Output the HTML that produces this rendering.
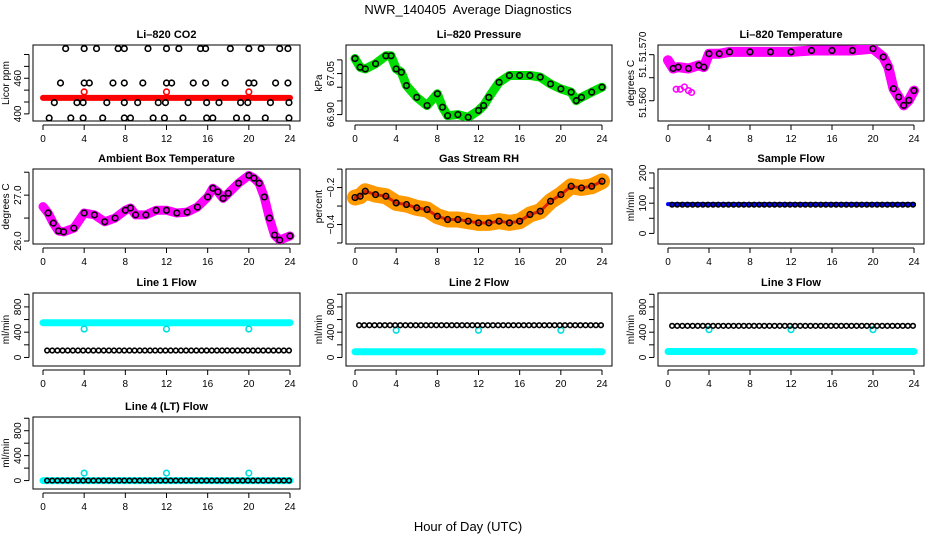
<!DOCTYPE html>
<html><head><meta charset="utf-8"><style>
body{margin:0;background:#fff}
svg{display:block;font-family:"Liberation Sans",Arial,sans-serif}
</style></head><body>
<svg id="c" width="936" height="540" xmlns="http://www.w3.org/2000/svg">
<rect width="936" height="540" fill="#fff"/>
<text x="468" y="14" text-anchor="middle" font-size="13" xml:space="preserve">NWR_140405  Average Diagnostics</text>
<text x="468" y="531" text-anchor="middle" font-size="13">Hour of Day (UTC)</text>
</svg>
<script>
// ---- data ----
const presT=[0,0.5,1,2,3,3.5,4,4.5,5,6,7,8,8.5,9,10,11,12,12.5,13,14,15,16,17,18,19,20,21,21.5,22,23,24];
const presV=[67.105,67.073,67.067,67.086,67.115,67.115,67.067,67.055,67.006,66.963,66.933,66.976,66.927,66.896,66.90,66.89,66.915,66.933,66.963,67.018,67.043,67.043,67.043,67.037,67.012,66.994,66.982,66.951,66.963,66.982,67.0];
const ambT=[0,0.5,1,1.5,2,3,4,5,6,7,8,8.5,9,10,11,12,13,14,15,16,16.5,17,17.5,18,19,20,20.5,21,21.5,22,22.5,23,24];
const ambV=[26.75,26.61,26.39,26.22,26.20,26.28,26.61,26.57,26.42,26.50,26.67,26.72,26.57,26.57,26.67,26.67,26.61,26.63,26.74,26.96,27.15,27.07,26.93,27.04,27.26,27.43,27.37,27.26,26.96,26.50,26.13,26.02,26.11];
const rhT=[0,0.5,1,2,3,4,5,6,7,8,9,10,11,12,13,14,15,16,17,18,19,20,21,22,23,24];
const rhV=[-0.254,-0.247,-0.22,-0.238,-0.247,-0.283,-0.292,-0.31,-0.319,-0.355,-0.373,-0.373,-0.382,-0.391,-0.391,-0.382,-0.391,-0.382,-0.346,-0.328,-0.274,-0.238,-0.193,-0.202,-0.193,-0.166];
const ltT=[0,0.5,1,2,3,3.5,4,5,6,8,10,12,14,16,18,20,21,21.5,22,22.5,23,23.5,24];
const ltV=[51.5688,51.5670,51.5673,51.5670,51.5677,51.5673,51.5702,51.5702,51.5706,51.5706,51.5706,51.5706,51.5709,51.5709,51.5709,51.5713,51.5695,51.5673,51.5626,51.5608,51.5590,51.5601,51.5622];
const ltLowT=[0.8,1.2,1.6,2.0,2.3];
const ltLowV=[51.5625,51.5625,51.5630,51.5622,51.5618];
const co2T=[0,24];
const co2V=[427,427];
const co2SpikeT=[4,12,20];
const co2SpikeV=[437,437,437];
const co2HiT=[2.2,4,5.2,7.3,7.9,10.2,12,13.2,15.3,15.8,18.2,20,21.2,23,23.8];
const co2MidT=[1.7,4,4.5,6.8,7.9,9.7,12,12.5,14.6,15.8,17.7,20,20.5,22.6,23.8];
const co2LoT=[1.1,3.3,3.9,6.2,7.9,9.2,11.2,11.9,14.1,15.9,17.1,19.2,19.9,22.1,23.9];
const co2BotT=[0.6,2.7,3.9,5.8,7.9,8.5,10.7,11.8,13.6,15.9,16.5,18.8,19.8,21.6,23.9];
const co2Levels=[510,452,419,393];
const sampleT=[0,24];
const sampleV=[97,97];
const sampleBlack=95;
const l1Cyan=550, l1Black=110, l1Dip=450;
const l2Cyan=90, l2Black=510, l2Dip=430;
const l3Cyan=95, l3Black=500, l3Dip=440;
const l4Cyan=0, l4Black=0, l4Dip=120;
const dipT=[4,12,20];
const xTicks=[0,4,8,12,16,20,24];

// ---- layout ----
const NS="http://www.w3.org/2000/svg";
const svg=document.getElementById('c');
const colL=[33,346,658],colR=[300,612,924],colX0=[43,355,668],colX24=[290,602,914];
const rowT=[45,169,293,417],rowB=[121,244,366,489];
function el(tag,attrs,parent){const e=document.createElementNS(NS,tag);for(const k in attrs)e.setAttribute(k,attrs[k]);(parent||svg).appendChild(e);return e;}

function panel(name,title,col,row,yLabel,ymin,ymax,yTicks,yLabels){
  const g=el('g',{});
  
  
  const L=colL[col],R=colR[col],T=rowT[row],B=rowB[row];
  const x=t=>colX0[col]+(colX24[col]-colX0[col])*t/24;
  const y=v=>B-(B-T)*(v-ymin)/(ymax-ymin);
  const tt=el('text',{x:(L+R)/2,y:T-7,'text-anchor':'middle','font-size':11,'font-weight':'bold'},g);
  tt.textContent=title;
  
  
  const box=el('rect',{x:L,y:T,width:R-L,height:B-T,fill:'none',stroke:'#000','stroke-width':1},g);
  
  
  const xa=el('g',{},g);
  
  
  el('line',{x1:x(0),x2:x(24),y1:B+4,y2:B+4,stroke:'#000'},xa);
  xTicks.forEach(t=>{el('line',{x1:x(t),x2:x(t),y1:B+4,y2:B+9,stroke:'#000'},xa);
    const tx=el('text',{x:x(t),y:B+21,'text-anchor':'middle','font-size':10},xa);tx.textContent=t;});
  const ya=el('g',{},g);
  
  
  el('line',{x1:L-4,x2:L-4,y1:y(yTicks[0]),y2:y(yTicks[yTicks.length-1]),stroke:'#000'},ya);
  yTicks.forEach(v=>el('line',{x1:L-4,x2:L-9,y1:y(v),y2:y(v),stroke:'#000'},ya));
  yLabels.forEach(([v,s])=>{const tx=el('text',{x:L-12,y:y(v),'text-anchor':'middle','font-size':10,transform:`rotate(-90 ${L-12} ${y(v)})`},ya);tx.textContent=s;});
  const yl=el('text',{x:L-24,y:(T+B)/2,'text-anchor':'middle','font-size':10,transform:`rotate(-90 ${L-24} ${(T+B)/2})`},g);
  yl.textContent=yLabel;
  
  
  const clip='clip'+name;
  const cp=el('clipPath',{id:clip},g);el('rect',{x:L,y:T,width:R-L,height:B-T},cp);
  const d=el('g',{'clip-path':`url(#${clip})`},g);
  return {x,y,d};
}
function band(p,T,V,color,w,nm){
  const pl=el('polyline',{points:T.map((t,i)=>p.x(t)+','+p.y(V[i])).join(' '),fill:'none',stroke:color,'stroke-width':w,'stroke-linejoin':'round','stroke-linecap':'round'},p.d);
  
  
}
function pts(p,T,V,color,nm,r){
  T.forEach((t,i)=>{const c=el('circle',{cx:p.x(t),cy:p.y(V[i]),r:r||2.8,fill:'none',stroke:color,'stroke-width':1.6},p.d);
    
    });
}
const cst=(n,v)=>Array(n).fill(v);
const hours=Array.from({length:48},(_,i)=>0.4+i*0.5);

// CO2
let p=panel('co2','Li\u2013820 CO2',0,0,'Licor ppm',388,516,[400,420,440,460,480,500],[[400,'400'],[460,'460']]);
band(p,co2T,co2V,'#ff0000',6,'co2-red-band');
pts(p,co2SpikeT,co2SpikeV,'#ff0000','co2-red-point');
pts(p,co2HiT,cst(co2HiT.length,co2Levels[0]),'#000','co2-point');
pts(p,co2MidT,cst(co2MidT.length,co2Levels[1]),'#000','co2-point');
pts(p,co2LoT,cst(co2LoT.length,co2Levels[2]),'#000','co2-point');
pts(p,co2BotT,cst(co2BotT.length,co2Levels[3]),'#000','co2-point');

// Pressure
p=panel('pressure','Li\u2013820 Pressure',1,0,'kPa',66.8765,67.1545,[66.90,66.95,67.00,67.05,67.10],[[66.90,'66.90'],[67.05,'67.05']]);
band(p,presT,presV,'#00dd00',9,'pressure-green-band');
pts(p,presT,presV,'#000','pressure-point');

// Li-820 temperature
p=panel('li820-temp','Li\u2013820 Temperature',2,0,'degrees C',51.5556,51.5721,[51.560,51.565,51.570],[[51.5596,'51.560'],[51.5665,'51.'],[51.5717,'51.570']]);
band(p,ltT,ltV,'#ff00ff',10,'li820-temp-magenta-band');
pts(p,ltLowT,ltLowV,'#ff00ff','li820-temp-magenta-point');
pts(p,ltT.slice(1),ltV.slice(1),'#000','li820-temp-point');

// Ambient
p=panel('ambient','Ambient Box Temperature',0,1,'degrees C',25.935,27.57,[26.0,26.5,27.0,27.5],[[26.0,'26.0'],[27.0,'27.0']]);
band(p,ambT,ambV,'#ff00ff',9,'ambient-magenta-band');
pts(p,ambT.slice(1),ambV.slice(1),'#000','ambient-point');

// RH
p=panel('rh','Gas Stream RH',1,1,'percent',-0.5055,-0.0995,[-0.5,-0.4,-0.3,-0.2,-0.1],[[-0.4,'\u22120.4'],[-0.2,'\u22120.2']]);
band(p,rhT,rhV,'#ff9900',16,'rh-orange-band');
band(p,rhT,rhV,'#dd2200',3,'rh-red-core');
pts(p,rhT,rhV,'#000','rh-point');

// Sample flow
p=panel('sample-flow','Sample Flow',2,1,'ml/min',-35,213,[0,50,100,150,200],[[0,'0'],[100,'100'],[200,'200']]);
band(p,sampleT,sampleV,'#0000ff',4,'sample-flow-blue-band');
pts(p,hours,cst(hours.length,sampleBlack),'#000','sample-flow-point',2.3);

function flow(name,title,col,row,cy,bk,dip){
  const q=panel(name,title,col,row,'ml/min',-135,1020,[0,200,400,600,800,1000],[[0,'0'],[400,'400'],[800,'800']]);
  band(q,[0,24],[cy,cy],'#00ffff',7,name+'-cyan-band');
  pts(q,dipT,cst(3,dip),'#00dddd',name+'-cyan-point');
  pts(q,hours,cst(hours.length,bk),'#000',name+'-point',2.3);
}
flow('line1-flow','Line 1 Flow',0,2,l1Cyan,l1Black,l1Dip);
flow('line2-flow','Line 2 Flow',1,2,l2Cyan,l2Black,l2Dip);
flow('line3-flow','Line 3 Flow',2,2,l3Cyan,l3Black,l3Dip);
flow('line4-flow','Line 4 (LT) Flow',0,3,l4Cyan,l4Black,l4Dip);
</script>
</body></html>
